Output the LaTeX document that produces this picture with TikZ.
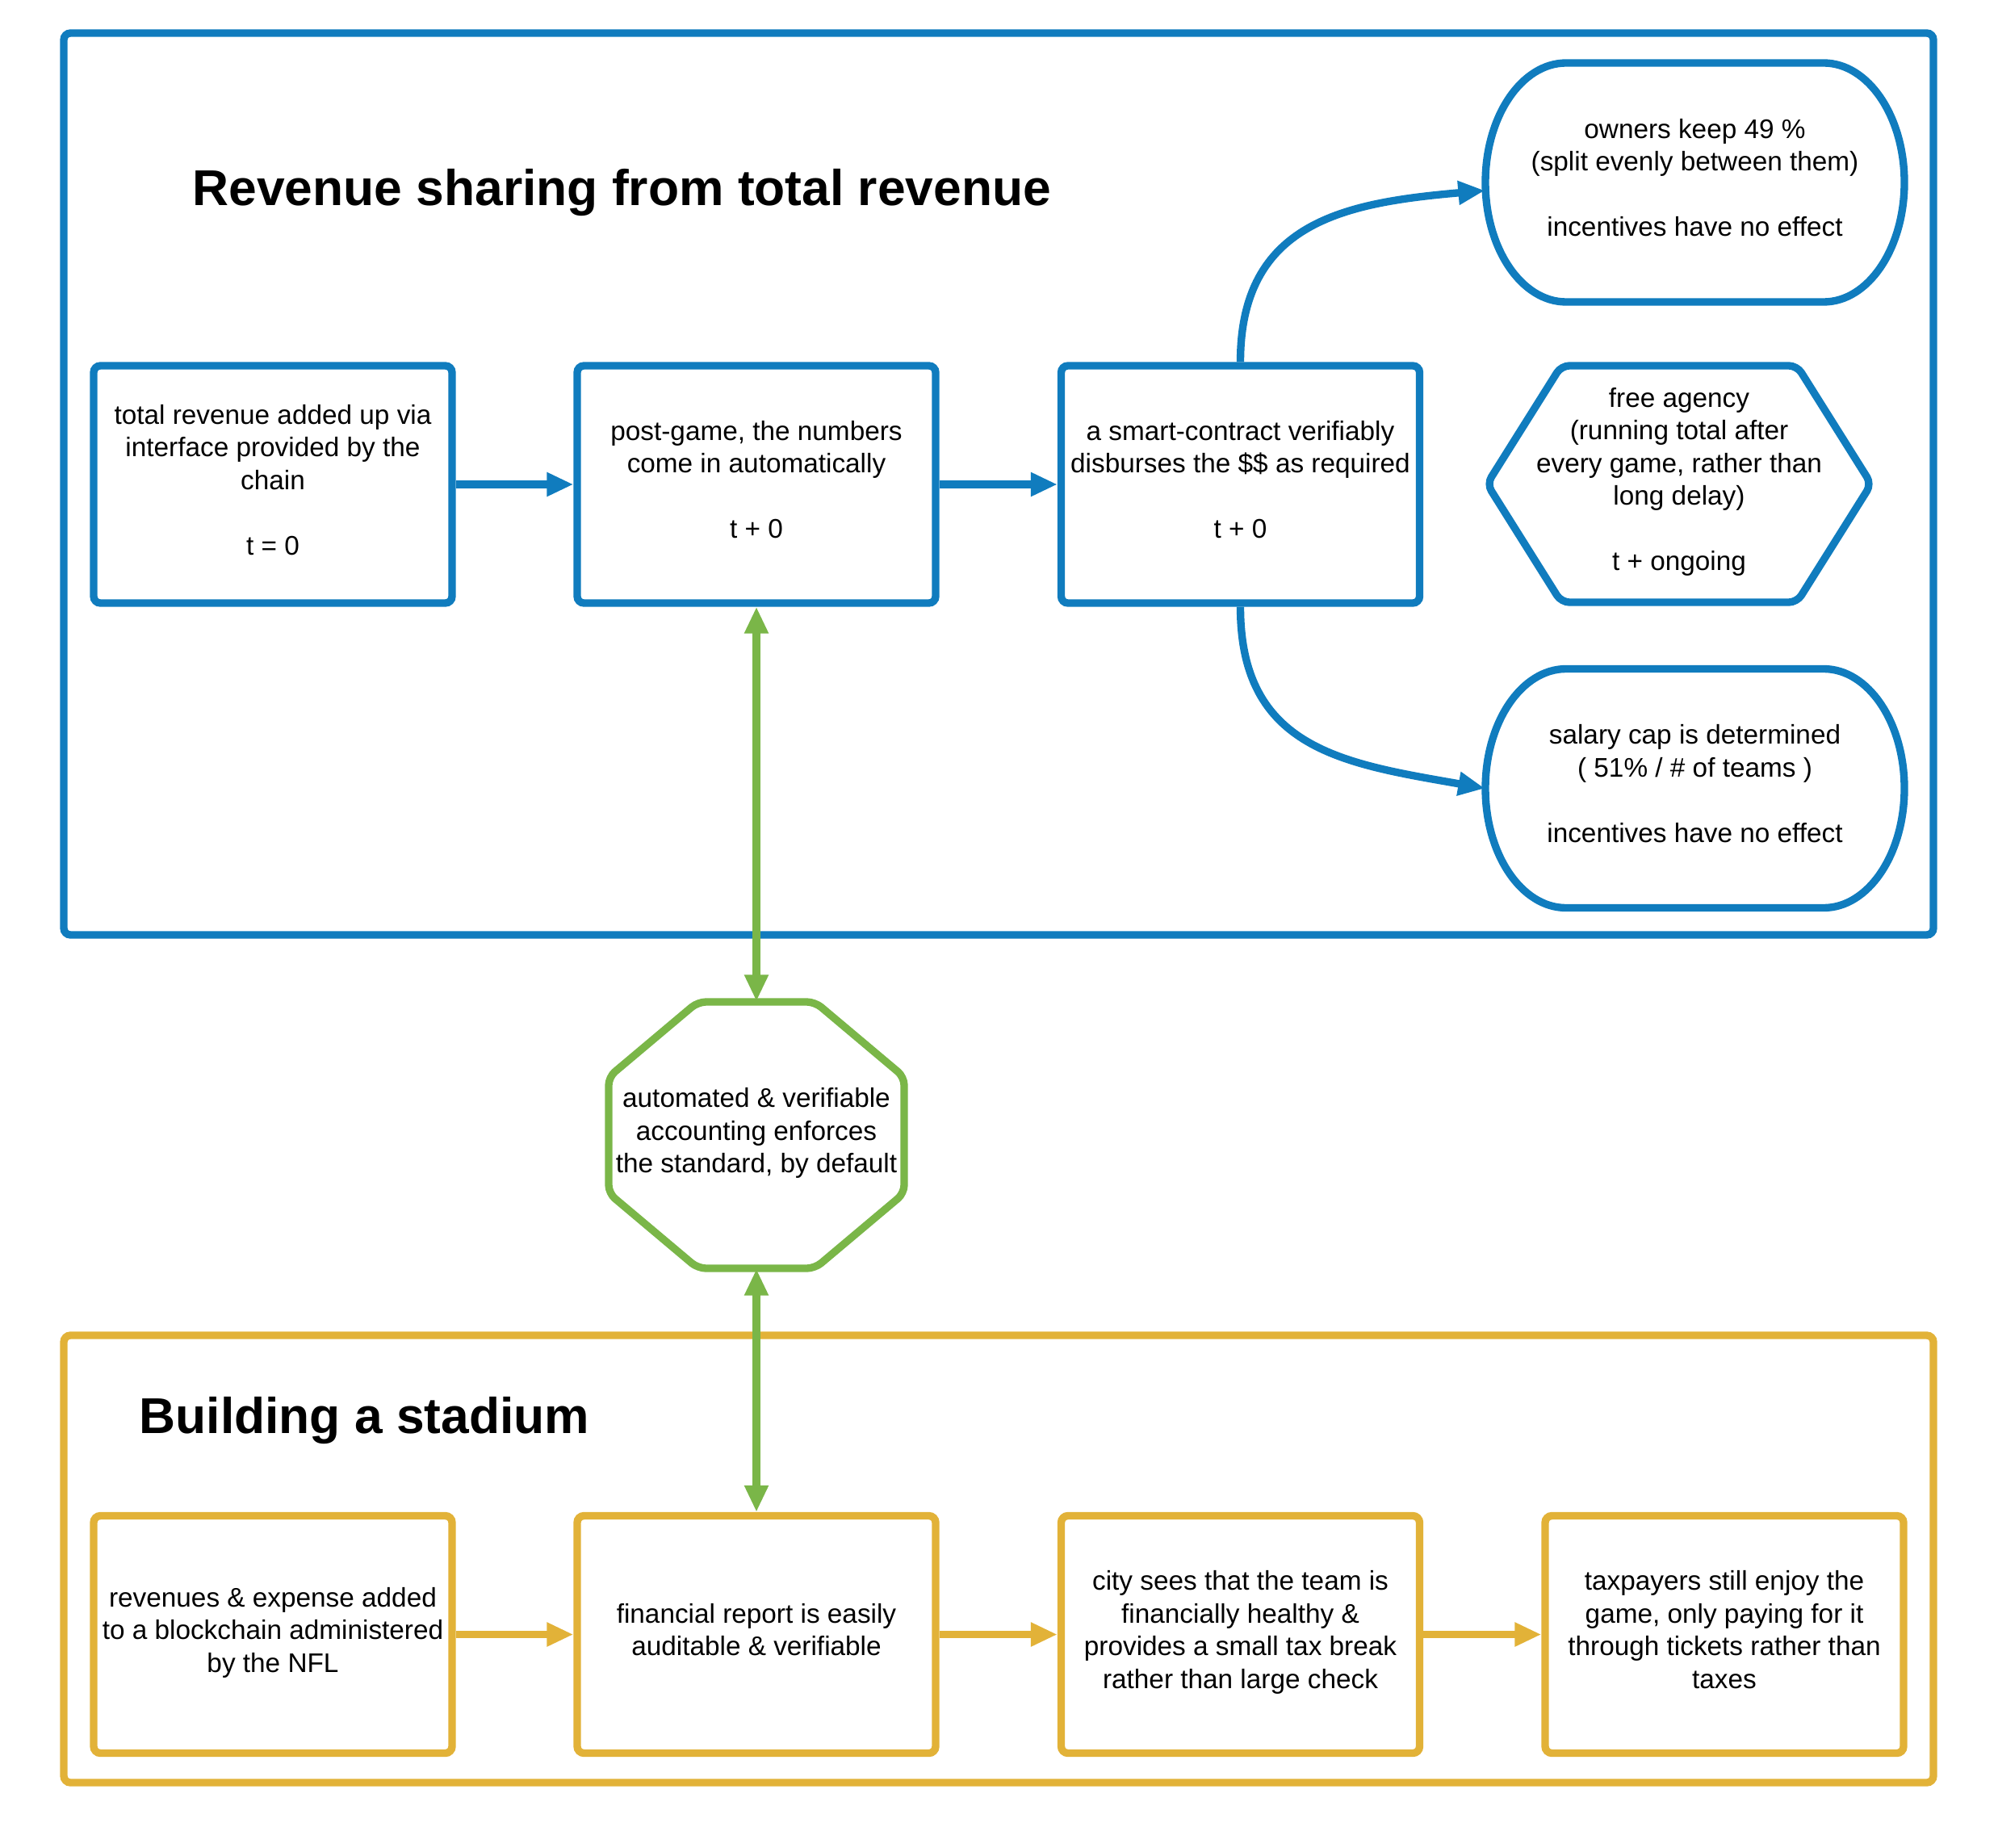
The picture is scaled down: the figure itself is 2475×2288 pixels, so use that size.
\documentclass[tikz,border=0pt]{standalone}
\usepackage{fontspec}
\setmainfont{Liberation Sans}
\usetikzlibrary{arrows.meta}

\definecolor{revblue}{RGB}{16,124,190}
\definecolor{stadyellow}{RGB}{226,178,56}
\definecolor{accgreen}{RGB}{122,182,72}

\tikzset{
  stepbox/.style={draw, line width=2.8pt, rounded corners=2.5pt, fill=white,
    minimum width=133.2pt, minimum height=88.2pt, inner sep=0pt, align=center,
    execute at begin node=\strut, execute at end node=\strut},
  shapenode/.style={inner sep=0pt, align=center,
    execute at begin node=\strut, execute at end node=\strut},
  frame/.style={line width=2.8pt, rounded corners=2.5pt},
  outline/.style={line width=2.8pt},
  flow/.style={line width=2.8pt, ->},
  heading/.style={anchor=base west, inner sep=0pt, font=\bfseries\fontsize{18.7}{22.4}\selectfont},
}

\begin{document}
\begin{tikzpicture}[x=0.3pt, y=0.3pt, >={Triangle[length=9.9pt,width=8.4pt]},
    every node/.style={font=\fontsize{10}{12.15}\selectfont}]
  \useasboundingbox (0,0) rectangle (2475,-2288);

  % Revenue sharing frame
  \draw[frame, revblue] (79,-41) rectangle (2395,-1158);
  \node[heading] (revtitle) at (238,-255) {Revenue sharing from total revenue};

  % steps of the revenue flow
  \node[stepbox, draw=revblue] (total) at (338,-600)
    {total revenue added up via\\ interface provided by the\\ chain\\[12.15pt] t = 0};
  \node[stepbox, draw=revblue] (postgame) at (937,-600)
    {post-game, the numbers\\ come in automatically\\[12.15pt] t + 0};
  \node[stepbox, draw=revblue] (contract) at (1536.5,-600)
    {a smart-contract verifiably\\ disburses the \$\$ as required\\[12.15pt] t + 0};

  % outcomes (terminators and hexagon)
  \node[shapenode, minimum width=155.7pt, minimum height=88.8pt] (owners) at (2099.5,-226)
    {owners keep 49 \%\\ (split evenly between them)\\[12.15pt] incentives have no effect};
  \node[shapenode, minimum width=155.7pt, minimum height=88.8pt] (salary) at (2099.5,-976.5)
    {salary cap is determined\\ ( 51\% / \# of teams )\\[12.15pt] incentives have no effect};
  \node[shapenode, minimum width=142.8pt, minimum height=87.9pt] (agency) at (2080,-599.5)
    {free agency\\ (running total after\\ every game, rather than\\ long delay)\\[12.15pt] t + ongoing};

  \foreach \n in {owners, salary}
    \draw[outline, revblue, shift={(\n.center)}] (-159.5,148) -- (159.5,148)
      arc[start angle=90, end angle=-90, x radius=30pt, y radius=44.4pt]
      -- (-159.5,-148)
      arc[start angle=270, end angle=90, x radius=30pt, y radius=44.4pt] -- cycle;
  \draw[outline, revblue, rounded corners=3pt, shift={(agency.center)}]
    (0,146.5) -- (146,146.5) -- (238,0) -- (146,-146.5) -- (-146,-146.5)
    -- (-238,0) -- (-146,146.5) -- cycle;

  % arrows of the revenue flow
  \draw[flow, revblue] (total) -- (postgame);
  \draw[flow, revblue] (postgame) -- (contract);
  \draw[flow, revblue] (contract.north) to[out=90, in=185, looseness=1.2] ([yshift=-3pt]owners.west);
  \draw[flow, revblue] (contract.south) to[out=-90, in=170, looseness=1.2] (salary.west);

  % accounting octagon between both frames
  \node[shapenode, minimum width=109.8pt, minimum height=99pt] (accounting) at (937,-1406)
    {automated \& verifiable\\ accounting enforces\\ the standard, by default};
  \draw[outline, accgreen, rounded corners=3pt, shift={(accounting.center)}]
    (0,165) -- (72.5,165) -- (183,72) -- (183,-72) -- (72.5,-165) -- (-72.5,-165)
    -- (-183,-72) -- (-183,72) -- (-72.5,165) -- cycle;

  % Stadium frame
  \draw[frame, stadyellow] (79,-1654) rectangle (2395,-2208);
  \node[heading] (stadtitle) at (172,-1775) {Building a stadium};

  \node[stepbox, draw=stadyellow] (ledger) at (338,-2024.5)
    {revenues \& expense added\\ to a blockchain administered\\ by the NFL};
  \node[stepbox, draw=stadyellow] (report) at (937,-2024.5)
    {financial report is easily\\ auditable \& verifiable};
  \node[stepbox, draw=stadyellow] (city) at (1536.5,-2024.5)
    {city sees that the team is\\ financially healthy \&\\ provides a small tax break\\ rather than large check};
  \node[stepbox, draw=stadyellow] (taxpayers) at (2136,-2024.5)
    {taxpayers still enjoy the\\ game, only paying for it\\ through tickets rather than\\ taxes};

  \draw[flow, stadyellow] (ledger) -- (report);
  \draw[flow, stadyellow] (report) -- (city);
  \draw[flow, stadyellow] (city) -- (taxpayers);

  % green links
  \draw[flow, accgreen, <->] (postgame) -- (accounting);
  \draw[flow, accgreen, <->] (accounting) -- (report);
\end{tikzpicture}
\end{document}
